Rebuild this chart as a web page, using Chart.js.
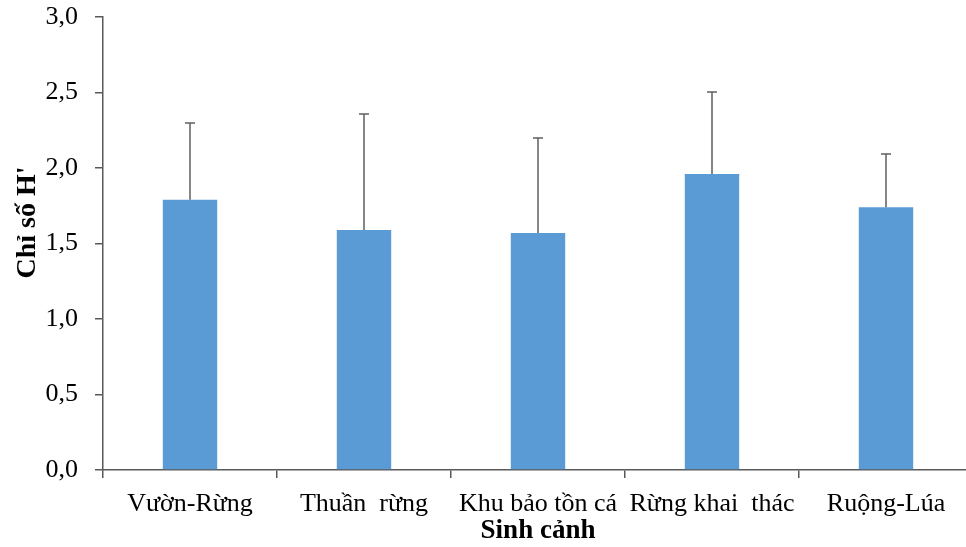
<!DOCTYPE html>
<html>
<head>
<meta charset="utf-8">
<script src="https://cdn.jsdelivr.net/npm/chart.js@4"></script>
<style>
  html, body { margin: 0; padding: 0; background: #ffffff; overflow: hidden; }
  #wrap { width: 966px; height: 547px; position: relative; overflow: hidden; }
  canvas { display: block; }
</style>
</head>
<body>
<div id="wrap"><canvas id="c" width="973" height="547"></canvas></div>
<script>
const categories = ["Vườn-Rừng", "Thuần  rừng", "Khu bảo tồn cá", "Rừng khai  thác", "Ruộng-Lúa"];
const meanH = [1.79, 1.59, 1.57, 1.96, 1.74];
const errH = [0.51, 0.77, 0.63, 0.54, 0.35];
const yTicks = [0, 0.5, 1.0, 1.5, 2.0, 2.5, 3.0];
const yTitle = "      Chỉ số H'";
const xTitle = "Sinh cảnh";

const axisColor = "#595959";
const fontFam = "'Liberation Serif', 'Times New Roman', serif";

const errorBars = {
  id: 'errorBars',
  afterDatasetsDraw(chart) {
    const ctx = chart.ctx;
    const meta = chart.getDatasetMeta(0);
    const ys = chart.scales.y;
    ctx.save();
    ctx.strokeStyle = "#5f5f5f";
    ctx.lineWidth = 1.5;
    meta.data.forEach((bar, i) => {
      const top = Math.round(ys.getPixelForValue(meanH[i] + errH[i]));
      const base = bar.y;
      const x = Math.round(bar.x);
      ctx.beginPath();
      ctx.moveTo(x, base);
      ctx.lineTo(x, top);
      ctx.moveTo(x - 5, top);
      ctx.lineTo(x + 5, top);
      ctx.stroke();
    });
    ctx.restore();
  }
};

function noPad(scale) {
  scale.paddingTop = 0;
  scale.paddingBottom = 0;
  scale.paddingLeft = 0;
  scale.paddingRight = 0;
}

new Chart(document.getElementById('c'), {
  type: 'bar',
  data: {
    labels: categories,
    datasets: [{
      data: meanH,
      backgroundColor: "#5B9BD5",
      borderWidth: 0,
      barPercentage: 0.3126,
      categoryPercentage: 1.0
    }]
  },
  options: {
    responsive: false,
    animation: false,
    devicePixelRatio: 1,
    layout: { padding: { top: 17, right: 0, left: 0, bottom: 0 } },
    plugins: { legend: { display: false }, tooltip: { enabled: false } },
    scales: {
      x: {
        offset: true,
        afterFit(scale) { scale.height = 77; noPad(scale); },
        grid: {
          display: true,
          offset: true,
          drawOnChartArea: false,
          drawTicks: true,
          tickLength: 8,
          color: axisColor,
          lineWidth: 1.5
        },
        border: { display: true, color: axisColor, width: 1.5 },
        ticks: {
          color: "#000000",
          font: { family: fontFam, size: 26 },
          padding: 11,
          maxRotation: 0,
          autoSkip: false
        },
        title: {
          display: true,
          text: xTitle,
          color: "#000000",
          font: { family: fontFam, size: 27, weight: 'bold' },
          padding: { top: 0, bottom: 0 }
        }
      },
      y: {
        min: 0,
        max: 3,
        afterFit(scale) { scale.width = 103; noPad(scale); },
        afterBuildTicks(scale) { scale.ticks = yTicks.map(v => ({ value: v })); },
        grid: {
          display: true,
          drawOnChartArea: false,
          drawTicks: true,
          tickLength: 8,
          color: axisColor,
          lineWidth: 1.5
        },
        border: { display: true, color: axisColor, width: 1.5 },
        ticks: {
          color: "#000000",
          font: { family: fontFam, size: 26 },
          padding: 17,
          callback: (v) => Number(v).toFixed(1).replace('.', ',')
        },
        title: {
          display: true,
          text: yTitle,
          color: "#000000",
          font: { family: fontFam, size: 28, weight: 'bold' },
          padding: { top: 11, bottom: 0 }
        }
      }
    }
  },
  plugins: [errorBars]
});
</script>
</body>
</html>
